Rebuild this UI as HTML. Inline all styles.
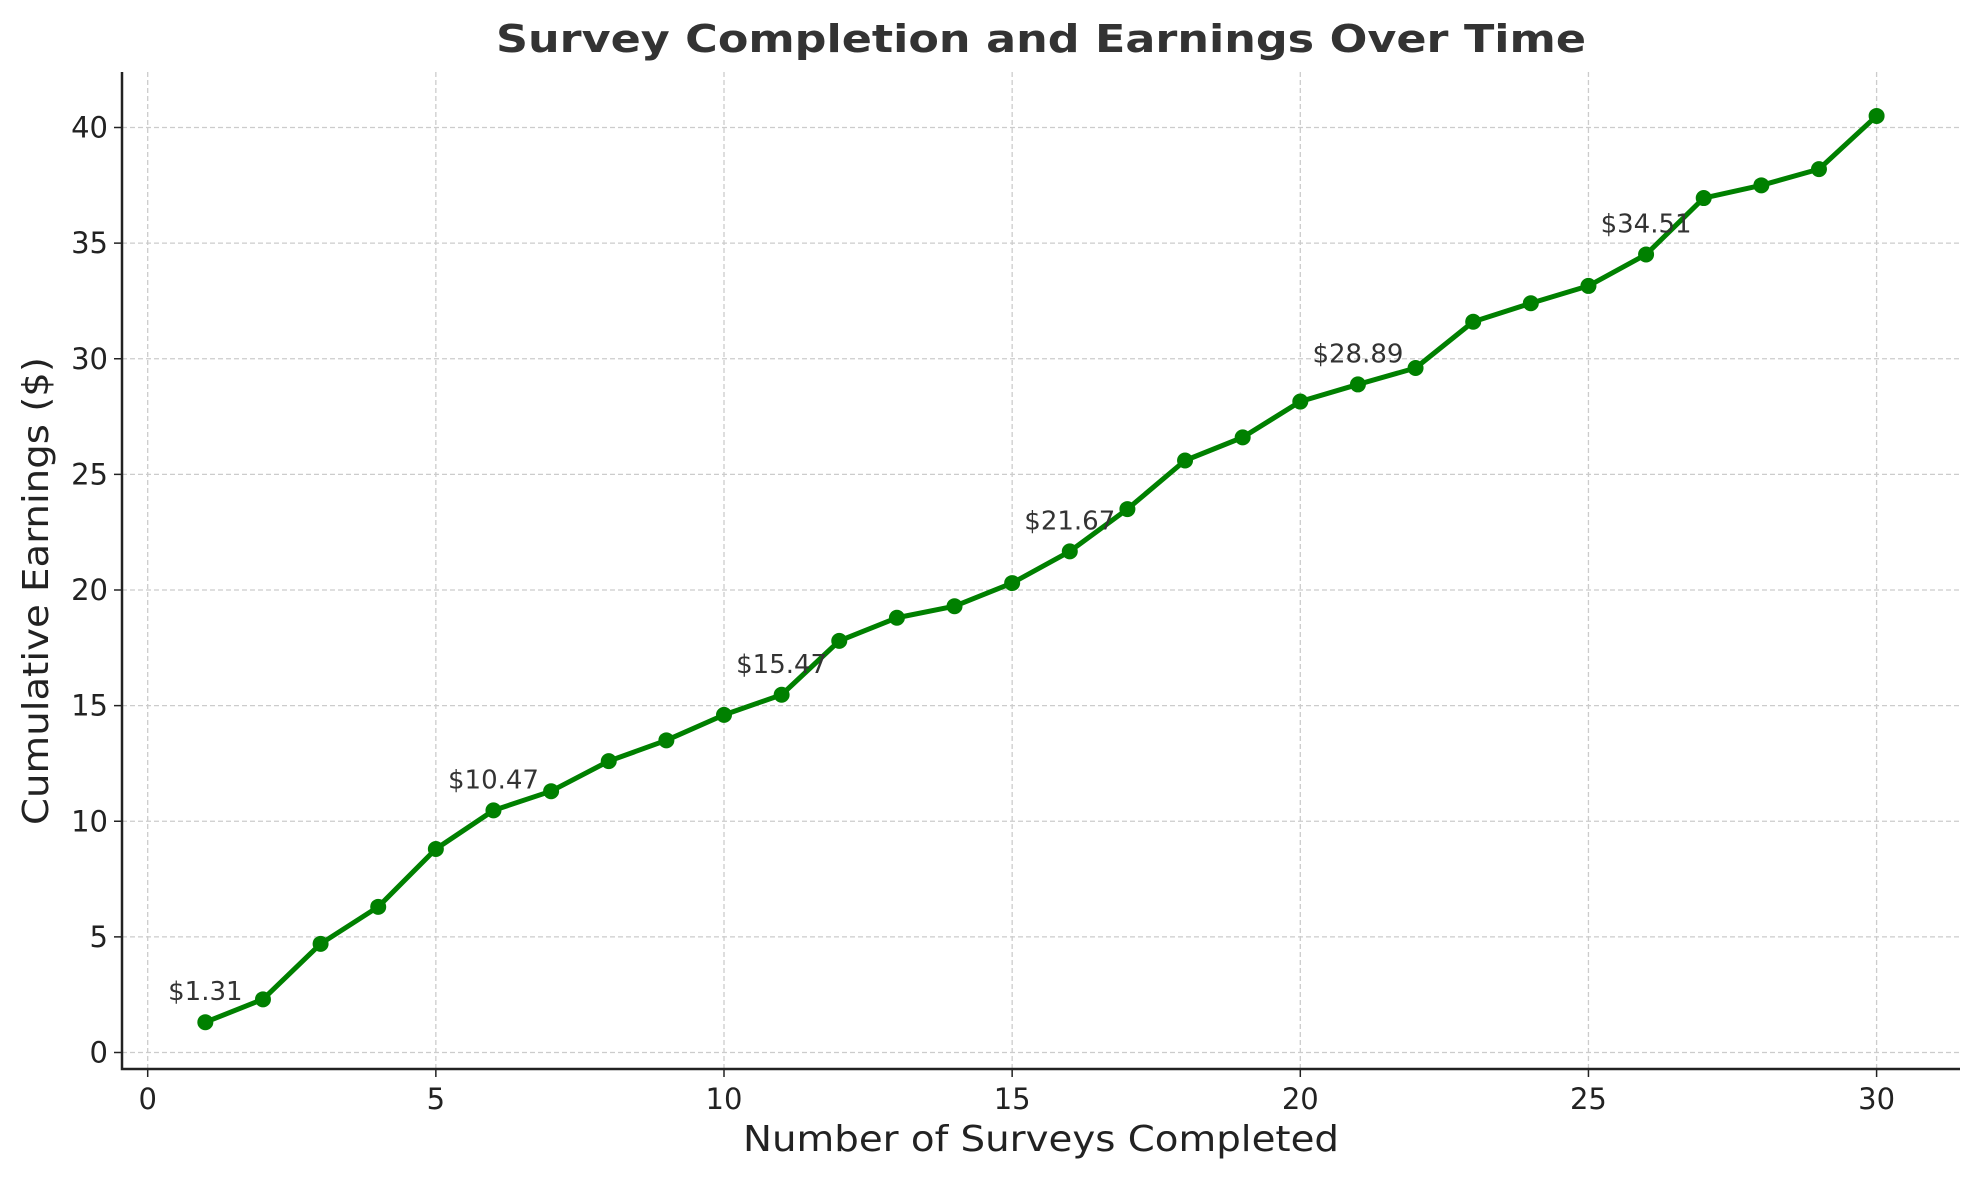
<!DOCTYPE html>
<html><head><meta charset="utf-8"><style>
body{margin:0;background:#fff}
svg text{font-family:"DejaVu Sans","Liberation Sans",sans-serif}
</style></head><body>
<svg id="chart" width="1979" height="1180" xmlns="http://www.w3.org/2000/svg">
<rect width="1979" height="1180" fill="#fff"/>
<text x="1041" y="52" text-anchor="middle" font-size="38" font-weight="bold" fill="#333" textLength="1090" lengthAdjust="spacingAndGlyphs">Survey Completion and Earnings Over Time</text>
<g id="grid"></g><g id="axes"></g><g id="series"></g>
<text x="1041" y="1151" text-anchor="middle" font-size="36" fill="#222" textLength="596" lengthAdjust="spacingAndGlyphs">Number of Surveys Completed</text>
<text transform="translate(48,591) rotate(-90)" text-anchor="middle" font-size="36" fill="#222" textLength="468" lengthAdjust="spacingAndGlyphs">Cumulative Earnings ($)</text>
</svg>
<script>
const surveys=[1,2,3,4,5,6,7,8,9,10,11,12,13,14,15,16,17,18,19,20,21,22,23,24,25,26,27,28,29,30];
const earnings=[1.31,2.3,4.7,6.3,8.8,10.47,11.3,12.6,13.5,14.6,15.47,17.8,18.8,19.3,20.3,21.67,23.5,25.6,26.6,28.15,28.89,29.6,31.6,32.4,33.15,34.51,36.95,37.5,38.2,40.5];
const xTicks=[0,5,10,15,20,25,30];
const yTicks=[0,5,10,15,20,25,30,35,40];
const annotateIdx=[0,5,10,15,20,25];
const L=122,R=1960,T=72,B=1069;
const xs=v=>147.7+(v-0)*(1876.6-147.7)/30;
const ys=v=>1052.5-v*(1052.5-127.5)/40;
const NS='http://www.w3.org/2000/svg';
function mk(tag,attrs,parent,text){const e=document.createElementNS(NS,tag);for(const k in attrs)e.setAttribute(k,attrs[k]);if(text!==undefined)e.textContent=text;parent.appendChild(e);return e;}
const grid=document.getElementById('grid'),axes=document.getElementById('axes'),ser=document.getElementById('series');
xTicks.forEach(t=>{
 const g=mk('line',{x1:xs(t),x2:xs(t),y1:T,y2:B,stroke:'#ccc','stroke-width':1.3,'stroke-dasharray':'5,3'},grid);
 
 
 mk('line',{x1:xs(t),x2:xs(t),y1:B,y2:B+8,stroke:'#222','stroke-width':1.5},axes);
 const l=mk('text',{x:xs(t),y:B+40,'text-anchor':'middle','font-size':29,fill:'#222'},axes,t);
 
 
});
yTicks.forEach(t=>{
 const g=mk('line',{x1:L,x2:R,y1:ys(t),y2:ys(t),stroke:'#ccc','stroke-width':1.3,'stroke-dasharray':'5,3'},grid);
 
 
 mk('line',{x1:L-8,x2:L,y1:ys(t),y2:ys(t),stroke:'#222','stroke-width':1.5},axes);
 const l=mk('text',{x:L-14,y:ys(t)+10,'text-anchor':'end','font-size':29,fill:'#222'},axes,t);
 
 
});
const ax=mk('path',{d:`M${L},${T}V${B}H${R}`,fill:'none',stroke:'#222','stroke-width':2.5},axes);


const pts=surveys.map((s,i)=>xs(s)+','+ys(earnings[i])).join(' ');
const line=mk('polyline',{points:pts,fill:'none',stroke:'#008000','stroke-width':5,'stroke-linejoin':'round'},ser);


surveys.forEach((s,i)=>{
 const c=mk('circle',{cx:xs(s),cy:ys(earnings[i]),r:8,fill:'#008000'},ser);
 
 
});
annotateIdx.forEach(i=>{
 const a=mk('text',{x:xs(surveys[i]),y:ys(earnings[i])-22,'text-anchor':'middle','font-size':26,fill:'#333'},ser,'$'+earnings[i].toFixed(2));
 
 
});
</script>
</body></html>
